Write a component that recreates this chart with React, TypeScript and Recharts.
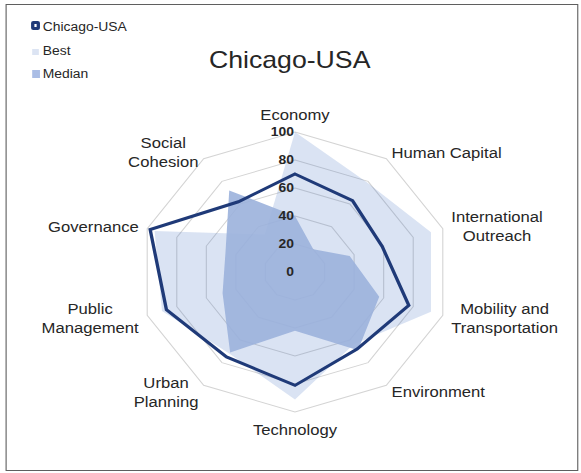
import React from 'react';
import { RadarChart, Radar, PolarGrid, PolarAngleAxis, PolarRadiusAxis } from 'recharts';

// axes run clockwise from the top
const categories = [
  'Economy',
  'Human Capital',
  'International\nOutreach',
  'Mobility and\nTransportation',
  'Environment',
  'Technology',
  'Urban\nPlanning',
  'Public\nManagement',
  'Governance',
  'Social\nCohesion',
];
const chicago = [70, 63, 59, 77, 68, 81, 75, 87, 98, 62];
const best = [100, 79, 92, 92, 64, 91, 72, 90, 95, 33];
const median = [40, 20, 37, 57, 69, 42, 71, 49, 47, 72];
const radiusTicks = [0, 20, 40, 60, 80, 100];

const legendItems = ['Chicago-USA', 'Best', 'Median'];

const data = categories.map((c, i) => ({
  axis: c,
  chicago: chicago[i],
  best: best[i],
  median: median[i],
}));

// the source picture is stretched sideways, so the whole chart is drawn narrow and scaled
const SX = 1.11;
const W = 581 / SX;
const H = 473;
const CX = 295 / SX;
const CY = 272;
const FONT_FAMILY = '"Liberation Sans", Arial, sans-serif';
const LABEL_SIZE = 15;
const LINE_H = 19;
const NAVY = '#1f3a78';

let ctx: CanvasRenderingContext2D | null = null;
const measure = (s: string) => {
  if (!ctx) ctx = document.createElement('canvas').getContext('2d');
  if (!ctx) return s.length * LABEL_SIZE * 0.5;
  ctx.font = `${LABEL_SIZE}px ${FONT_FAMILY}`;
  return ctx.measureText(s).width;
};

const AngleTick = (props: any) => {
  const { x, y, textAnchor, payload } = props;
  const lines = String(payload.value).split('\n');
  const w = Math.max(...lines.map(measure));
  const h = lines.length * LINE_H;
  const mx = textAnchor === 'start' ? x + w / 2 : textAnchor === 'end' ? x - w / 2 : x;
  let top = y - h / 2;
  if (textAnchor === 'middle') top = y < CY ? y - h : y;
  return (
    <text textAnchor="middle" fontSize={LABEL_SIZE} fontFamily={FONT_FAMILY} fill="#262626">
      {lines.map((l, i) => (
        <tspan key={i} x={mx} y={top + LINE_H * i + LINE_H / 2 + 5.5}>
          {l}
        </tspan>
      ))}
    </text>
  );
};

const RadiusTick = (props: any) => {
  const { x, y, payload } = props;
  return (
    <text
      x={x - 1}
      y={y}
      dy={4.5}
      textAnchor="end"
      fontSize={12.5}
      fontWeight="bold"
      fontFamily={FONT_FAMILY}
      fill="#262626"
    >
      {payload.value}
    </text>
  );
};

const Marker = ({ name }: { name: string }) => {
  if (name === 'Chicago-USA') {
    return (
      <span
        style={{
          position: 'absolute', left: 28, top: 1, width: 8, height: 9, boxSizing: 'border-box',
          background: '#fff', border: `3px solid ${NAVY}`, borderRadius: 2,
        }}
      />
    );
  }
  const color = name === 'Best' ? '#dce4f3' : '#aabde5';
  const size = name === 'Best' ? { width: 6, height: 6, top: 5 } : { width: 7, height: 8, top: 3 };
  return <span style={{ position: 'absolute', left: 29, background: color, ...size }} />;
};

export default function App() {
  return (
    <div
      style={{
        position: 'absolute', left: 0, top: 0, width: W, height: H,
        transform: `scaleX(${SX})`, transformOrigin: '0 0',
        fontFamily: FONT_FAMILY, background: '#fff',
      }}
    >
      <div
        style={{
          position: 'absolute', left: 5, top: 4, width: 516, height: 467,
          border: '1px solid #5f5f5f', boxSizing: 'border-box',
        }}
      />
      {legendItems.map((name, i) => (
        <div key={name} style={{ position: 'absolute', left: 0, top: 20 + i * 23.5, height: 14, width: 120 }}>
          <Marker name={name} />
          <span
            style={{
              position: 'absolute', left: 38.5, top: 0, fontSize: 12.5, lineHeight: '14px',
              color: '#262626', whiteSpace: 'nowrap',
            }}
          >
            {name}
          </span>
        </div>
      ))}
      <div
        style={{
          position: 'absolute', left: 160, top: 46, width: 202, textAlign: 'center',
          fontSize: 24, lineHeight: '28px', color: '#262626',
        }}
      >
        Chicago-USA
      </div>
      <div style={{ position: 'absolute', left: 0, top: 0 }}>
        <RadarChart
          width={W}
          height={H}
          data={data}
          cx={CX}
          cy={CY}
          outerRadius={140}
          margin={{ top: 0, right: 0, bottom: 0, left: 0 }}
        >
          <PolarGrid gridType="polygon" radialLines={false} stroke="#d4d4d4" />
          <PolarAngleAxis dataKey="axis" tick={AngleTick} tickLine={false} axisLine={false} />
          <Radar
            name="Best"
            dataKey="best"
            stroke="none"
            fill="#4472c4"
            fillOpacity={0.2}
            isAnimationActive={false}
          />
          <Radar
            name="Median"
            dataKey="median"
            stroke="none"
            fill="#9bb1dc"
            fillOpacity={0.9}
            isAnimationActive={false}
          />
          <Radar
            name="Chicago-USA"
            dataKey="chicago"
            stroke={NAVY}
            strokeWidth={3}
            fill="none"
            fillOpacity={0}
            dot={false}
            isAnimationActive={false}
          />
          <PolarRadiusAxis
            angle={90}
            domain={[0, 100]}
            ticks={radiusTicks as any}
            tickCount={radiusTicks.length}
            orientation="left"
            axisLine={false}
            tick={RadiusTick}
          />
        </RadarChart>
      </div>
    </div>
  );
}
